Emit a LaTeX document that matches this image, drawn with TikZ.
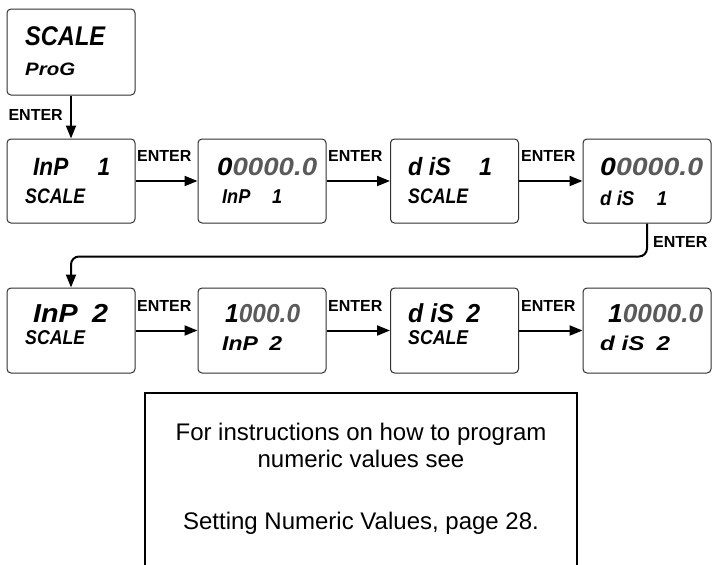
\documentclass[tikz,border=0pt]{standalone}
\usepackage{fontspec}
\usepackage{graphicx}
\setmainfont{Liberation Sans}
\usetikzlibrary{arrows.meta}
\definecolor{lcdgray}{HTML}{5A5A5A}
\definecolor{boxline}{HTML}{303030}
\newcommand\lcd[3]{\resizebox{#1}{\height}{\fontsize{#2}{#2}\selectfont\bfseries\itshape #3}}
\newcommand\gr[1]{\textcolor{lcdgray}{#1}}
\tikzset{
  lcdbox/.style={draw=boxline, line width=1pt, rounded corners=4pt, fill=white,
    minimum width=128pt, minimum height=84pt, inner sep=0pt},
  flow/.style={line width=2pt, -{Triangle[length=13pt,width=10pt]}},
  enter/.style={font=\fontsize{16}{16}\selectfont\bfseries, inner sep=0pt},
  lcdt/.style={anchor=base west, inner sep=0pt},
  infotext/.style={anchor=base, inner sep=0pt, font=\fontsize{24}{24}\selectfont},
}
\begin{document}
\begin{tikzpicture}[x=1pt, y=-1pt]
\useasboundingbox (0,0) rectangle (713,565);
\fill[white] (0,0) rectangle (713,565);

% boxes
\node[lcdbox, minimum height=86pt] (b0) at (71,52) {};
\node[lcdbox] (r1a) at (71,181) {};
\node[lcdbox] (r1b) at (262,181) {};
\node[lcdbox] (r1c) at (454.5,181) {};
\node[lcdbox] (r1d) at (647,181) {};
\node[lcdbox, minimum height=85pt] (r2a) at (71,330.5) {};
\node[lcdbox, minimum height=85pt] (r2b) at (262,330.5) {};
\node[lcdbox, minimum height=85pt] (r2c) at (454.5,330.5) {};
\node[lcdbox, minimum height=85pt] (r2d) at (647,330.5) {};

% display texts
\node[lcdt] (t0a) at (25,45) {\lcd{80pt}{27}{SCALE}};
\node[lcdt] (t0b) at (25,75) {\lcd{50pt}{18}{ProG}};

\node[lcdt] (t1a) at (33,175) {\lcd{77pt}{25}{InP\hspace{1.3em}1}};
\node[lcdt] (t1b) at (25,203) {\lcd{60pt}{21}{SCALE}};
\node[lcdt] (t2a) at (217,175) {\lcd{100pt}{25}{0\gr{0000.0}}};
\node[lcdt] (t2b) at (222,203) {\lcd{60pt}{20}{InP\hspace{1.2em}1}};
\node[lcdt] (t3a) at (408,175) {\lcd{84pt}{25}{d iS\hspace{1.2em}1}};
\node[lcdt] (t3b) at (408,203) {\lcd{60pt}{21}{SCALE}};
\node[lcdt] (t4a) at (600,175) {\lcd{103pt}{25}{0\gr{0000.0}}};
\node[lcdt] (t4b) at (600,205) {\lcd{67pt}{20}{d iS\hspace{1.2em}1}};

\node[lcdt] (u1a) at (33,322) {\lcd{75pt}{26}{InP\hspace{0.5em}2}};
\node[lcdt] (u1b) at (25,344) {\lcd{60pt}{20}{SCALE}};
\node[lcdt] (u2a) at (225,322) {\lcd{75pt}{26}{1\gr{000.0}}};
\node[lcdt] (u2b) at (222,350) {\lcd{60pt}{20}{InP\hspace{0.5em}2}};
\node[lcdt] (u3a) at (408,322) {\lcd{72pt}{26}{d iS\hspace{0.5em}2}};
\node[lcdt] (u3b) at (408,344) {\lcd{60pt}{20}{SCALE}};
\node[lcdt] (u4a) at (608,322) {\lcd{95pt}{26}{1\gr{0000.0}}};
\node[lcdt] (u4b) at (600,350) {\lcd{70pt}{20}{d iS\hspace{0.5em}2}};

% connectors
\draw[flow] (b0.south) -- (r1a.north);
\draw[flow] (r1a.east) -- (r1b.west);
\draw[flow] (r1b.east) -- (r1c.west);
\draw[flow] (r1c.east) -- (r1d.west);
\draw[flow, rounded corners=8pt] (r1d.south) -- ++(0,33) -| (r2a.north);
\draw[flow] (r2a.east) -- (r2b.west);
\draw[flow] (r2b.east) -- (r2c.west);
\draw[flow] (r2c.east) -- (r2d.west);

% ENTER labels
\node[enter, anchor=east] (e0) at (63,115) {ENTER};
\node[enter, anchor=west] (e1) at (137,156) {ENTER};
\node[enter, anchor=west] (e2) at (328,156) {ENTER};
\node[enter, anchor=west] (e3) at (521,156) {ENTER};
\node[enter, anchor=west] (e4) at (653,242) {ENTER};
\node[enter, anchor=west] (e5) at (137,306) {ENTER};
\node[enter, anchor=west] (e6) at (328,306) {ENTER};
\node[enter, anchor=west] (e7) at (521,306) {ENTER};

% info box
\draw[line width=2pt] (145,575) |- (577,393) -- (577,575);
\node[infotext] (i1) at (361,440) {For instructions on how to program};
\node[infotext] (i2) at (361,467) {numeric values see};
\node[infotext] (i3) at (361,529) {Setting Numeric Values, page 28.};
\end{tikzpicture}
\end{document}
